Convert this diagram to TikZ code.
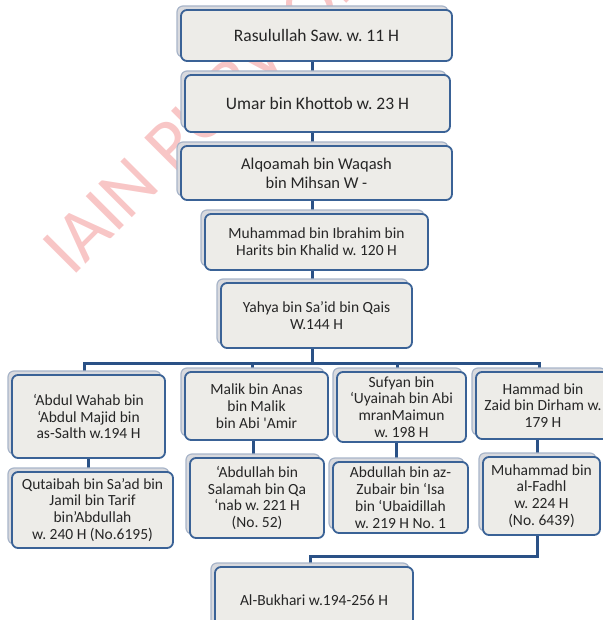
\documentclass[tikz,border=0pt]{standalone}
\usepackage{fontspec}
\setmainfont{Carlito}
\frenchspacing
\usetikzlibrary{shadows,backgrounds}
\definecolor{boxfill}{HTML}{EDECE8}
\definecolor{boxline}{HTML}{3A6296}
\definecolor{backfill}{HTML}{D9DADE}
\definecolor{backline}{HTML}{A8B5C9}
\definecolor{linkblue}{HTML}{2A5186}
\definecolor{wmpink}{HTML}{F8C6C6}

\begin{document}
\begin{tikzpicture}[x=1pt,y=-1pt,
          box/.style={draw=boxline,line width=1.8pt,fill=boxfill,rounded corners=6pt,
            inner sep=0pt,align=center,text=black!85,
            font=\fontsize{15.5}{16.8}\selectfont,
            copy shadow={shadow xshift=-4pt,shadow yshift=4pt,fill=backfill,draw=backline,line width=1.2pt}},
          bigbox/.style={box,font=\fontsize{17.5}{21}\selectfont},
          link/.style={draw=linkblue,line width=3pt},
          watermark/.style={text=wmpink,font=\fontsize{74}{74}\selectfont,inner sep=0pt}]

          \useasboundingbox (0,0) rectangle (602,620);

          \node[bigbox,minimum width=271pt,minimum height=51pt] (rasul) at (316.5,35.5) {Rasulullah Saw. w. 11 H};
          \node[bigbox,minimum width=265pt,minimum height=57pt] (umar) at (317.5,103.5) {Umar bin Khottob w. 23 H};
          \node[box,font=\fontsize{16.5}{19}\selectfont,minimum width=271pt,minimum height=54pt] (alqo) at (316.5,173) {Alqoamah bin Waqash\\bin Mihsan W -};
          \node[box,minimum width=223pt,minimum height=56pt] (ibrahim) at (316.5,242) {Muhammad bin Ibrahim bin\\Harits bin Khalid w. 120 H};
          \node[box,minimum width=191pt,minimum height=65pt] (yahya) at (316.5,315.5) {Yahya bin Sa’id bin Qais\\W.144 H};

          \node[box,minimum width=153pt,minimum height=83pt] (wahab) at (88.5,416.5) {‘Abdul Wahab bin\\‘Abdul Majid bin\\as-Salth w.194 H};
          \node[box,minimum width=143pt,minimum height=68pt] (malik) at (256.5,406) {Malik bin Anas\\bin Malik\\bin Abi \textquotesingle Amir};
          \node[box,minimum width=129pt,minimum height=70pt] (sufyan) at (401.5,407) {Sufyan bin\\‘Uyainah bin Abi\\mranMaimun\\w. 198 H};
          \node[box,minimum width=134pt,minimum height=67pt] (hammad) at (543,405.5) {Hammad bin\\Zaid bin Dirham w.\\179 H};

          \node[box,minimum width=161pt,minimum height=76pt] (qutaibah) at (92.5,510) {Qutaibah bin Sa’ad bin\\Jamil bin Tarif\\bin’Abdullah\\w. 240 H (No.6195)};
          \node[box,minimum width=134pt,minimum height=80pt] (salamah) at (257,498) {‘Abdullah bin\\Salamah bin Qa\\‘nab w. 221 H\\(No. 52)};
          \node[box,minimum width=135pt,minimum height=71pt] (zubair) at (400.5,497.5) {Abdullah bin az-\\Zubair bin ‘Isa\\bin ‘Ubaidillah\\w. 219 H No. 1};
          \node[box,minimum width=117pt,minimum height=78pt] (fadhl) at (541.5,496) {Muhammad bin\\al-Fadhl\\w. 224 H\\(No. 6439)};

          \node[box,minimum width=198pt,minimum height=66pt] (bukhari) at (314,600) {Al-Bukhari w.194-256 H};

          \coordinate (bus) at (312.5,363);
          \coordinate (join) at (310,556);

          \begin{scope}[on background layer]
          \node[watermark,rotate=45,anchor=base west] (wm) at (72,278) {IAIN PURWOKERTO};
          \draw[link] ([xshift=-4pt]rasul.center) -- ([xshift=-4pt]yahya.center);
          \draw[link] ([xshift=-4pt]yahya.center) -- (bus);
          \draw[link] ([xshift=-4pt]wahab.center) |- (bus) -| ([xshift=-4pt]hammad.center);
          \draw[link] ([xshift=-4pt]malik.center) -- ([xshift=-4pt]malik.center |- bus);
          \draw[link] ([xshift=-4pt]sufyan.center) -- ([xshift=-4pt]sufyan.center |- bus);
          \draw[link] ([xshift=-4pt]qutaibah.center) -- ([xshift=-4pt]qutaibah.center |- wahab.center);
          \draw[link] ([xshift=-4pt]salamah.center) -- ([xshift=-4pt]salamah.center |- malik.center);
          \draw[link] ([xshift=-4pt]zubair.center) -- ([xshift=-4pt]zubair.center |- sufyan.center);
          \draw[link] ([xshift=-4pt]fadhl.center) -- ([xshift=-4pt]fadhl.center |- hammad.center);
          \draw[link] ([xshift=-4pt]fadhl.center) |- (join) -| ([xshift=-4pt]bukhari.center);
          \end{scope}

          \end{tikzpicture}
\end{document}
